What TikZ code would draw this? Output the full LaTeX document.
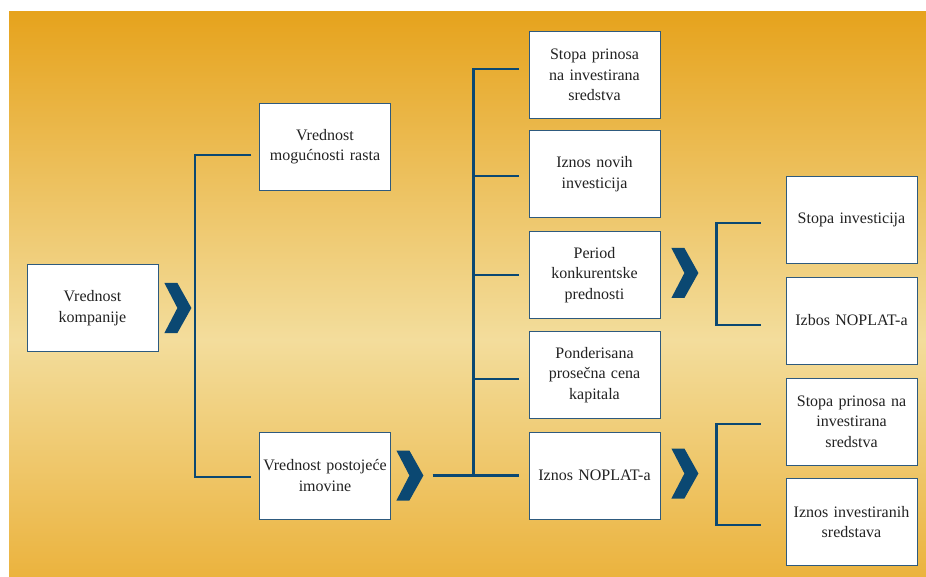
\documentclass[tikz,border=0pt]{standalone}
\usepackage{fontspec}
\setmainfont{Liberation Serif}
\definecolor{navy}{HTML}{0B4872}
\definecolor{boxline}{HTML}{2E5A7E}
\definecolor{goldtop}{HTML}{E6A31D}
\definecolor{goldmid}{HTML}{F3DD9C}
\definecolor{goldbot}{HTML}{EBB33E}
\definecolor{txt}{HTML}{222222}
\begin{document}
\begin{tikzpicture}[x=1pt,y=-1pt,
  card/.style={draw=boxline,line width=0.8pt,fill=white,minimum width=131pt,
    minimum height=87pt,inner sep=2pt,align=center,text width=124pt,
    font=\fontsize{16}{20.5}\selectfont,text=txt},
  conn/.style={draw=navy,line width=2.4pt},
  chev/.pic={\fill[navy] (0,-25) -- (13,-25) -- (27,0) -- (13,25) -- (0,25) -- (13,0) -- cycle;}]
\useasboundingbox (0,0) rectangle (926,577);
\fill[white] (0,0) rectangle (926,577);
% golden gradient backdrop
\shade[top color=goldtop,bottom color=goldmid] (9,12) rectangle (926,340);
\shade[top color=goldmid,bottom color=goldbot] (9,339.5) rectangle (926,577);

% boxes
\node[card] (komp) at (92.5,308) {Vrednost\\kompanije};
\node[card] (rast) at (325,146.5) {Vrednost\\mogućnosti rasta};
\node[card] (imov) at (325,475.5) {Vrednost postojeće\\imovine};
\node[card] (sp)  at (594.5,75)   {Stopa prinosa\\na investirana\\sredstva};
\node[card] (nov) at (594.5,174)  {Iznos novih\\investicija};
\node[card] (per) at (594.5,275)  {Period\\konkurentske\\prednosti};
\node[card] (pon) at (594.5,375)  {Ponderisana\\prosečna cena\\kapitala};
\node[card] (nop) at (594.5,475.5){Iznos NOPLAT-a};
\node[card] (si)  at (851.5,220)  {Stopa investicija};
\node[card] (izb) at (851.5,320.5){Izbos NOPLAT-a};
\node[card] (spr) at (851.5,421.5){Stopa prinosa na\\investirana\\sredstva};
\node[card] (izn) at (851.5,522)  {Iznos investiranih\\sredstava};

% chevrons
\pic at ([xshift=6pt]komp.east) {chev};
\pic at ([xshift=5.5pt]imov.east) {chev};
\pic at ([xshift=11pt,yshift=2pt]per.east) {chev};
\pic at ([xshift=11pt,yshift=2pt]nop.east) {chev};

% first bracket
\draw[conn] ([xshift=-8pt,yshift=-8.5pt]rast.west) -- ([xshift=-64pt,yshift=-8.5pt]rast.west) |- ([xshift=-8pt,yshift=-1.5pt]imov.west);

% trunk to the middle column
\draw[conn] ([xshift=-96pt]nop.west) -- ([xshift=-10pt]nop.west);
\draw[conn] ([xshift=-10pt,yshift=6pt]sp.west) -| ([xshift=-55pt]nop.west);
\draw[conn] ([xshift=-10pt,yshift=-2pt]nov.west) -- ++(-45,0);
\draw[conn] ([xshift=-10pt]per.west) -- ++(-45,0);
\draw[conn] ([xshift=-10pt,yshift=-4pt]pon.west) -- ++(-45,0);

% right brackets
\draw[conn] ([xshift=-25pt,yshift=-3pt]si.west) -- ++(-44,0) |- ([xshift=-25pt,yshift=-4.5pt]izb.west);
\draw[conn] ([xshift=-25pt,yshift=-2.5pt]spr.west) -- ++(-44,0) |- ([xshift=-25pt,yshift=-3pt]izn.west);
\end{tikzpicture}
\end{document}
